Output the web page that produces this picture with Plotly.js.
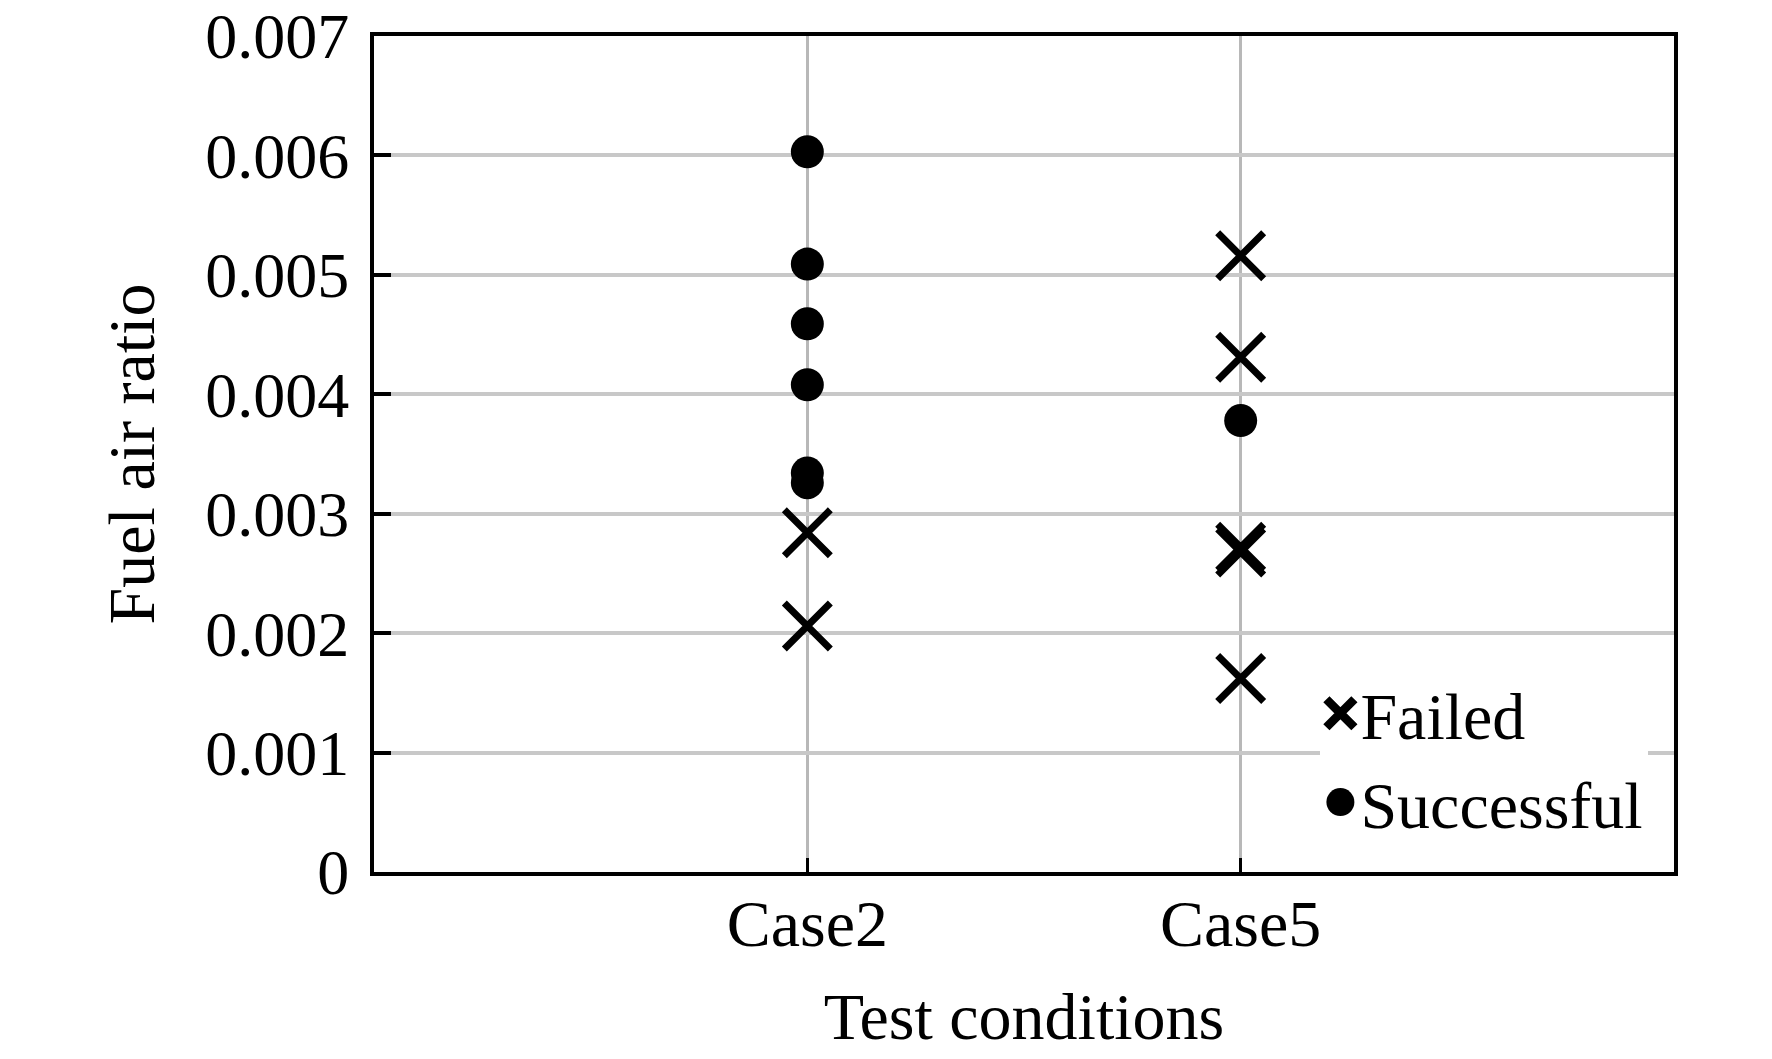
<!DOCTYPE html>
<html>
<head>
<meta charset="utf-8">
<script src="https://cdn.plot.ly/plotly-3.0.1.min.js"></script>
<style>html,body{margin:0;padding:0;background:#fff;}#chart{width:1772px;height:1059px;}</style>
</head>
<body>
<div id="chart"></div>
<script>
const failedX = ['Case2','Case2','Case5','Case5','Case5','Case5','Case5'];
const failedY = [0.00284, 0.00206, 0.00516, 0.00431, 0.00272, 0.00268, 0.00162];
const successX = ['Case2','Case2','Case2','Case2','Case2','Case2','Case5'];
const successY = [0.00603, 0.00509, 0.00459, 0.00408, 0.00334, 0.00326, 0.00378];
const categories = ['Case2','Case5'];
const yTicks = [0, 0.001, 0.002, 0.003, 0.004, 0.005, 0.006, 0.007];
const yTickText = ['0','0.001','0.002','0.003','0.004','0.005','0.006','0.007'];

const FONT = 'Liberation Serif, Times New Roman, serif';

const traces = [
  {
    type: 'scatter', mode: 'markers', name: 'Failed',
    x: failedX, y: failedY,
    marker: {symbol: 'x-thin-open', size: 46, color: '#000', line: {color: '#000', width: 7}}
  },
  {
    type: 'scatter', mode: 'markers', name: 'Successful',
    x: successX, y: successY,
    marker: {symbol: 'circle', size: 33, color: '#000', line: {width: 0}}
  }
];

const layout = {
  width: 1772, height: 1059,
  margin: {l: 374, r: 98, t: 36, b: 187},
  paper_bgcolor: '#fff', plot_bgcolor: '#fff',
  font: {family: FONT, size: 64, color: '#000'},
  showlegend: true,
  legend: {
    x: 0.728, y: 0.249, xanchor: 'left', yanchor: 'top',
    bgcolor: '#fff', borderwidth: 0,
    font: {family: FONT, size: 66, color: '#000'},
    itemwidth: 30, tracegroupgap: 0
  },
  xaxis: {
    type: 'category', categoryorder: 'array', categoryarray: categories,
    range: [-1, 2],
    showline: true, linecolor: '#000', linewidth: 4, mirror: true,
    ticks: 'inside', ticklen: 14, tickwidth: 3, tickcolor: '#000',
    showgrid: true, gridcolor: '#b8b8b8', gridwidth: 3,
    tickfont: {family: FONT, size: 66, color: '#000'},
    ticklabelstandoff: -9,
    ticklabeloverflow: 'allow',
    zeroline: false,
    title: {text: 'Test conditions', font: {family: FONT, size: 66, color: '#000'}, standoff: 35},
    automargin: true
  },
  yaxis: {
    range: [0, 0.0070001],
    tickvals: yTicks, ticktext: yTickText,
    showline: true, linecolor: '#000', linewidth: 4, mirror: true,
    ticks: 'inside', ticklen: 17, tickwidth: 4, tickcolor: '#000',
    showgrid: true, gridcolor: '#c8c8c8', gridwidth: 4,
    tickfont: {family: FONT, size: 64, color: '#000'},
    ticklabelstandoff: 8,
    ticklabeloverflow: 'allow',
    zeroline: false,
    title: {text: 'Fuel air ratio', font: {family: FONT, size: 66, color: '#000'}, standoff: 30},
    automargin: false
  }
};

Plotly.newPlot('chart', traces, layout, {displayModeBar: false, staticPlot: true}).then(function (gd) {
  gd.querySelectorAll('.legend .legendpoints path.scatterpts').forEach(function (p) {
    var t = p.getAttribute('transform') || '';
    p.setAttribute('transform', t + ' scale(1.75)');
  });
});
</script>
</body>
</html>
